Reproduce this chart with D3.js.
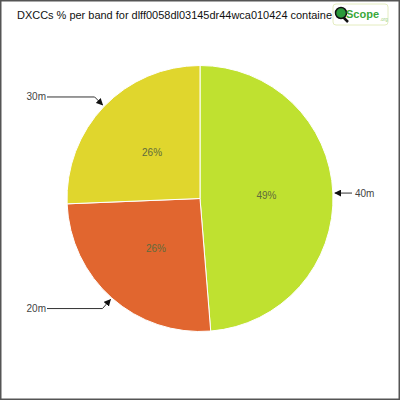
<!DOCTYPE html>
<html>
<head>
<meta charset="utf-8">
<script src="https://cdn.jsdelivr.net/npm/d3@7"></script>
<style>
  body { margin: 0; background: #fff; }
  svg { display: block; }
</style>
</head>
<body>
<div id="chart"></div>
<script>
// Data
const bands = ["40m", "20m", "30m"];
const counts = [19, 10, 10];
const sliceColors = ["#bfe130", "#e1662f", "#e0d62d"];
const titleText = "DXCCs % per band for dlff0058dl03145dr44wca010424 containe";

const width = 400, height = 400;
const cx = 200, cy = 198.5, radius = 133;

const svg = d3.select("#chart")
    .append("svg")
    .attr("width", width)
    .attr("height", height);

// Outer frame
svg.append("rect")
    .attr("x", 0.75).attr("y", 0.75)
    .attr("width", width - 1.5).attr("height", height - 1.5)
    .attr("fill", "#fff")
    .attr("stroke", "#555")
    .attr("stroke-width", 1.5);

// Arrow marker for label lines
const defs = svg.append("defs");
defs.append("marker")
    .attr("id", "arrow")
    .attr("viewBox", "0 0 10 10")
    .attr("refX", 9).attr("refY", 5)
    .attr("markerWidth", 7).attr("markerHeight", 7)
    .attr("orient", "auto")
    .append("path")
    .attr("d", "M0,0 L10,5 L0,10 z")
    .attr("fill", "#111");

// Title gets cut off where the logo starts
defs.append("clipPath").attr("id", "titleClip")
    .append("rect").attr("x", 0).attr("y", 0).attr("width", 333).attr("height", 30);

svg.append("text")
    .attr("x", 17).attr("y", 19)
    .attr("clip-path", "url(#titleClip)")
    .attr("font-family", "Liberation Sans, Arial, sans-serif")
    .attr("font-size", 11)
    .attr("fill", "#111")
    .attr("textLength", 315)
    .attr("lengthAdjust", "spacingAndGlyphs")
    .text(titleText);

// Pie
const total = d3.sum(counts);
const pieData = d3.pie().sort(null)(counts);
const arc = d3.arc().innerRadius(0).outerRadius(radius);
const labelArc = d3.arc().innerRadius(radius * 0.5).outerRadius(radius * 0.5);

const g = svg.append("g").attr("transform", `translate(${cx},${cy})`);

g.selectAll("path")
    .data(pieData)
    .enter()
    .append("path")
    .attr("d", arc)
    .attr("fill", (d, i) => sliceColors[i])
    .attr("stroke", "#fff")
    .attr("stroke-width", 1);

g.selectAll("text.pct")
    .data(pieData)
    .enter()
    .append("text")
    .attr("class", "pct")
    .attr("transform", d => `translate(${labelArc.centroid(d)})`)
    .attr("text-anchor", "middle")
    .attr("dy", "0.35em")
    .attr("font-family", "Liberation Sans, Arial, sans-serif")
    .attr("font-size", 10)
    .attr("fill", "#5f6b3c")
    .text(d => Math.round(d.data / total * 100) + "%");

// Outside labels with arrow leaders
pieData.forEach((d, i) => {
    const mid = (d.startAngle + d.endAngle) / 2;
    const ex = cx + Math.sin(mid) * (radius + 2);
    const ey = cy - Math.cos(mid) * (radius + 2);
    const right = mid < Math.PI;
    let pts, tx;
    if (right) {
        pts = [[cx + 152, ey], [ex, ey]];
        tx = cx + 155;
    } else {
        const ly = ey + (ey < cy ? -8 : 9);
        pts = [[47, ly], [ex - 8, ly], [ex, ey]];
        tx = 46;
    }
    svg.append("path")
        .attr("d", d3.line()(pts))
        .attr("fill", "none")
        .attr("stroke", "#333")
        .attr("stroke-width", 1)
        .attr("marker-end", "url(#arrow)");
    svg.append("text")
        .attr("x", tx)
        .attr("y", pts[0][1])
        .attr("dy", "0.35em")
        .attr("text-anchor", right ? "start" : "end")
        .attr("font-family", "Liberation Sans, Arial, sans-serif")
        .attr("font-size", 10)
        .attr("fill", "#444")
        .text(bands[i]);
});

// Logo box
const logo = svg.append("g").attr("transform", "translate(333,4)");
logo.append("rect")
    .attr("x", 0).attr("y", 0)
    .attr("width", 55).attr("height", 21)
    .attr("rx", 3)
    .attr("fill", "#fff")
    .attr("stroke", "#e4ecc0")
    .attr("stroke-width", 1);
logo.append("line")
    .attr("x1", 10).attr("y1", 13).attr("x2", 15).attr("y2", 18)
    .attr("stroke", "#111").attr("stroke-width", 2.5);
logo.append("circle")
    .attr("cx", 8).attr("cy", 9).attr("r", 5.5)
    .attr("fill", "#2a9a3a")
    .attr("stroke", "#111").attr("stroke-width", 1.5);
logo.append("text")
    .attr("x", 13).attr("y", 14)
    .attr("font-family", "Liberation Sans, sans-serif")
    .attr("font-size", 11)
    .attr("font-weight", "bold")
    .attr("fill", "#3aa83a")
    .text("Scope");
logo.append("text")
    .attr("x", 47).attr("y", 17)
    .attr("font-family", "Liberation Sans, sans-serif")
    .attr("font-size", 4.5)
    .attr("fill", "#9bcf7a")
    .text(".org");
</script>
</body>
</html>
